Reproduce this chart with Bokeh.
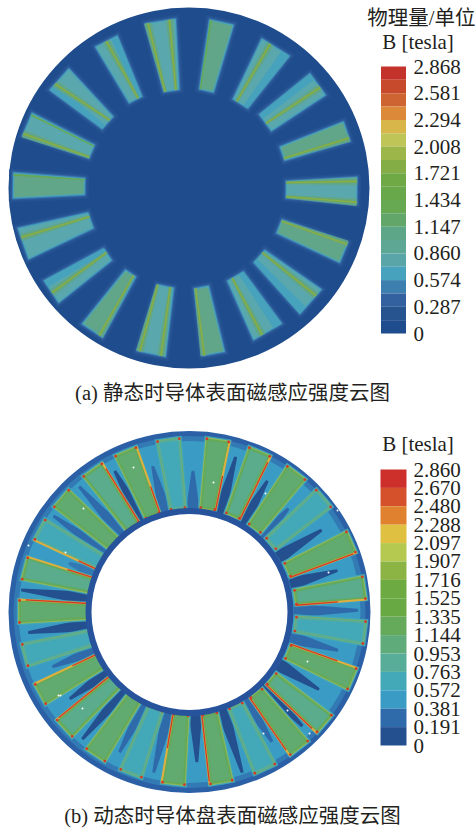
import math
from bokeh.plotting import figure
from bokeh.models import Range1d, ColumnDataSource
from bokeh.core.properties import value
from bokeh.embed import file_html
from bokeh.resources import INLINE

# ---------- legends ----------
TOP_TITLE = ["物理量/单位", "B [tesla]"]
TOP_TICKS = ["2.868", "2.581", "2.294", "2.008", "1.721", "1.434", "1.147", "0.860", "0.574", "0.287", "0"]
TOP_VALUES = [2.868, 2.581, 2.294, 2.008, 1.721, 1.434, 1.147, 0.860, 0.574, 0.287, 0.0]
TOP_BANDS = ["#c3332b", "#c74a2c", "#cf6433", "#dc8a3a", "#d8b64a", "#c0c557", "#9db64a", "#84ae45",
             "#6fa946", "#69a84a", "#67a852", "#62a66a", "#5ea688", "#5ea795", "#5aa5a8", "#47a2bd",
             "#3d80b0", "#33609e", "#27538f", "#1f4c8c"]
BOT_TITLE = "B [tesla]"
BOT_TICKS = ["2.860", "2.670", "2.480", "2.288", "2.097", "1.907", "1.716", "1.525", "1.335", "1.144",
             "0.953", "0.763", "0.572", "0.381", "0.191", "0"]
BOT_VALUES = [2.860, 2.670, 2.480, 2.288, 2.097, 1.907, 1.716, 1.525, 1.335, 1.144, 0.953, 0.763, 0.572, 0.381, 0.191, 0.0]
BOT_BANDS = ["#cd2f2b", "#d4512c", "#e0812f", "#e0c040", "#b5c84f", "#8cb444", "#6eaa42", "#69a944",
             "#64aa5a", "#5fac7a", "#57ad98", "#43a8b8", "#3a9cc4", "#2f6aab", "#25508f"]
CAPTIONS = ["(a) 静态时导体表面磁感应强度云图", "(b) 动态时导体盘表面磁感应强度云图"]

# ---------- (a) 18 slots: outer midpoint, inner midpoint, half widths, strips, green body ----------
A_OX = [13, 27, 59, 106, 160, 221, 275, 317, 346, 356, 343, 310, 267, 213, 151, 92, 51, 23]
A_OY = [185, 124, 79, 41, 21, 22, 47, 84, 131, 190, 252, 301, 331, 353, 353, 330, 291, 243]
A_IX = [84, 91, 107, 135, 171, 206, 240, 265, 282, 286, 279, 259, 235, 201, 165, 130, 107, 90]
A_IY = [186, 151, 122, 99, 90, 90, 103, 122, 153, 189, 226, 256, 276, 287, 286, 273, 254, 220]
A_WO = [12.5, 12, 14, 12, 15, 12, 16, 13, 10, 13, 10.5, 16, 16, 11, 14, 12, 13, 16]
A_WI = [8, 7, 8, 7, 7.5, 7, 8.5, 10, 7, 8, 7, 8, 9, 7, 8, 6, 7, 8]
A_BODY_GREEN = [1, 0, 0, 0, 0, 1, 0, 0, 1, 0, 1, 0, 0, 1, 0, 1, 0, 0]
A_FLANK = [0, 0, 1, -1, 0, 0, -1, 1, 0, 0, 0, -1, 1, 0, 0, 1, -1, 0]
# strips: (t at inner, t at outer, strength 0 faint / 1 bright)
A_STRIPS = [
    [(-0.85, -0.85, 0)], [(0.85, 0.85, 1), (-0.85, -0.85, 0)], [(-0.4, 0.44, 1)], [(-0.4, 0.0, 1)],
    [(0.85, 0.85, 1), (-0.6, -0.6, 1)], [(0.9, 0.9, 0)], [(0.5, 0.4, 1)], [(-0.1, -0.3, 1)],
    [(-0.7, -0.7, 1)], [(0.85, 0.7, 1), (-0.9, -0.9, 1)], [(0.8, 0.85, 1)], [(0.6, 0.5, 1)],
    [(-0.4, -0.4, 1)], [(-0.85, -0.85, 1)], [(-1.0, -0.85, 1), (0.6, 0.7, 1)], [(0.6, 0.7, 1)],
    [(-0.3, 0.1, 1)], [(-0.5, -0.4, 1)],
]

# ---------- (b) 25 slots ----------
B_ANGLES = [180, 165.6, 151.8, 139.2, 125.2, 112.7, 98, 81.6, 67.2, 53.2, 40.8, 23.7, 7.9, -7, -22.9,
            -40.4, -52, -65.3, -80.4, -96.3, -110.8, -124, -137.6, -151.5, -165.4]
# 0 green body, 1 hollow teal
B_HOLLOW = [0, 0, 1, 0, 0, 0, 1, 0, 0, 0, 1, 0, 0, 1, 0, 0, 0, 1, 0, 0, 1, 0, 0, 0, 1]
B_TEAL = [0, 1, 0, 0, 1, 0, 0, 0, 1, 0, 0, 0, 1, 0, 0, 1, 0, 0, 0, 0, 0, 0, 1, 0, 0]
# red edge: side -1 clockwise edge, +1 counter-clockwise edge, 0 none
B_RED = [-1, -1, 1, 0, -1, -1, 0, -1, -1, 0, 0, -1, -1, 0, 1, -1, -1, 0, -1, -1, 0, 0, -1, -1, 0]
B_REDLEN = [0.9, 0.4, 0.3, 0, 0.9, 0.4, 0, 0.5, 0.9, 0, 0, 0.95, 0.6, 0, 0.7, 0.9, 0.9, 0, 0.95, 0.5, 0, 0, 0.95, 0.4, 0]
# darker gaps after each slot (outer radius, level)
B_GAP_R = [172, 132, 168, 168, 160, 150, 140, 160, 150, 140, 152, 150, 165, 150, 148, 158, 152, 168, 150, 165, 158, 168, 150, 150, 165]
B_GAP_COL = ["#25508f", "#3379b4", "#2f6aab", "#2f6aab", "#25508f", "#2f6aab", "#2f6aab", "#25508f", "#25508f",
             "#2f6aab", "#25508f", "#25508f", "#2f6aab", "#2f6aab", "#25508f", "#25508f", "#2f6aab", "#25508f",
             "#25508f", "#2f6aab", "#2f6aab", "#25508f", "#25508f", "#2f6aab", "#25508f"]
SPECK_X = [65, 83, 133, 213, 265, 328, 58, 82, 287, 263, 307, 309, 28, 60, 337]
SPECK_Y = [552, 508, 467, 482, 493, 572, 695, 708, 710, 733, 661, 733, 545, 695, 510]

SERIF = value("Liberation Serif, Noto Sans CJK SC")
W, H = 476, 831
p = figure(width=W, height=H, x_range=Range1d(0, W), y_range=Range1d(H, 0),
           toolbar_location=None, output_backend="svg", min_border=0)
p.axis.visible = False
p.grid.visible = False
p.outline_line_color = None
p.background_fill_color = "white"
p.border_fill_color = "white"


def add_patches(polys, colors, lw=0.5):
    src = ColumnDataSource(dict(xs=[q[0] for q in polys], ys=[q[1] for q in polys], c=colors))
    p.patches("xs", "ys", fill_color="c", line_color="c", line_width=lw, line_join="round", source=src)


def frame(ox, oy, ix, iy):
    L = math.hypot(ox - ix, oy - iy)
    ux, uy = (ox - ix) / L, (oy - iy) / L
    return ux, uy, uy, -ux


def quad_slot(ox, oy, ix, iy, wo, wi, grow):
    ux, uy, tx, ty = frame(ox, oy, ix, iy)
    a = (ix - ux * grow, iy - uy * grow)
    b = (ox + ux * grow, oy + uy * grow)
    w1, w2 = wi + grow, wo + grow
    return ([a[0] + tx * w1, b[0] + tx * w2, b[0] - tx * w2, a[0] - tx * w1],
            [a[1] + ty * w1, b[1] + ty * w2, b[1] - ty * w2, a[1] - ty * w1])


def strip_poly(ox, oy, ix, iy, wo, wi, ti, to, h1, h2):
    ux, uy, tx, ty = frame(ox, oy, ix, iy)
    ai, ao = ti * wi, to * wo
    return ([ix + tx * (ai + h1), ox + tx * (ao + h2), ox + tx * (ao - h2), ix + tx * (ai - h1)],
            [iy + ty * (ai + h1), oy + ty * (ao + h2), oy + ty * (ao - h2), iy + ty * (ai - h1)])


# ----- disc (a) -----
p.circle([188.5], [187.5], radius=180.5, fill_color="#1f4c8c", line_color=None)
for grow, col, lw in ((2.5, "#245190", 4), (1.2, "#2c5a9b", 3), (0.2, "#3a78ad", 2.4), (-0.5, "#47a2bd", 2)):
    add_patches([quad_slot(A_OX[i], A_OY[i], A_IX[i], A_IY[i], A_WO[i], A_WI[i], grow) for i in range(18)],
                [col] * 18, lw)
add_patches([quad_slot(A_OX[i], A_OY[i], A_IX[i], A_IY[i], A_WO[i], A_WI[i], -1.4) for i in range(18)],
            ["#62a68a" if A_BODY_GREEN[i] else "#5aa8ad" for i in range(18)], 1.5)
flank = [strip_poly(A_OX[i], A_OY[i], A_IX[i], A_IY[i], A_WO[i], A_WI[i], A_FLANK[i] * 0.7, A_FLANK[i] * 0.7,
                    0.25 * A_WI[i], 0.25 * A_WO[i]) for i in range(18) if A_FLANK[i]]
add_patches(flank, ["#47a2bd"] * len(flank))
zone, zone_c, core, core_c, hot = [], [], [], [], []
for i in range(18):
    for ti, to, s in A_STRIPS[i]:
        args = (A_OX[i], A_OY[i], A_IX[i], A_IY[i], A_WO[i], A_WI[i], ti, to)
        if s:
            zone.append(strip_poly(*args, 1.4, 3.6))
            zone_c.append("#62a68a")
            core.append(strip_poly(*args, 0.6, 0.9))
            core_c.append("#76a94c")
            hot.append(strip_poly(*args, 0.15, 0.25))
        else:
            core.append(strip_poly(*args, 0.4, 0.6))
            core_c.append("#67a852")
add_patches(zone, zone_c)
add_patches(core, core_c)
add_patches(hot, ["#8fb048"] * len(hot))

# ----- disc (b) -----
CX, CY = 192, 611
p.circle([189], [611.5], radius=181, fill_color="#2b5fa6", line_color=None)
p.circle([189], [611.5], radius=176, fill_color="#3379b4", line_color=None)
p.circle([189], [611.5], radius=171, fill_color="#3a9cc4", line_color=None)


def slot_b(a, r1, r2, w1, w2):
    c, s = math.cos(math.radians(a)), math.sin(math.radians(a))
    return (CX + r2 * c, CY - r2 * s, CX + r1 * c, CY - r1 * s, w2, w1)


n = len(B_ANGLES)
gaps = []
for i in range(n):
    a0, a1 = B_ANGLES[i], B_ANGLES[(i + 1) % n]
    d = (a1 - a0 + 180) % 360 - 180
    mid = a0 + d / 2
    ox, oy, ix, iy, wo, wi = slot_b(mid, 102, B_GAP_R[i], 6, 0.8)
    gaps.append(quad_slot(ox, oy, ix, iy, wo, wi, 0))
add_patches(gaps, B_GAP_COL, 1.5)
halos = [quad_slot(*slot_b(a, 103, 174, 8, 12), 1.4) for a in B_ANGLES]
add_patches(halos, ["#43a8b8"] * n)

slots = [slot_b(a, 103, 174, 8, 12) for a in B_ANGLES]
add_patches([quad_slot(*s, 0) for s in slots], ["#a8bf4c" if not B_HOLLOW[i] else "#7fb060" for i, s in enumerate(slots)])
add_patches([quad_slot(*s, -0.7) for s in slots], ["#57ad98" if B_HOLLOW[i] else "#64aa5a" for i, s in enumerate(slots)])
inner = [quad_slot(*s, -3.0) for s in slots]
add_patches(inner, ["#43a8b8" if B_HOLLOW[i] else ("#5aac8c" if B_TEAL[i] else "#62ab70") for i in range(n)])

# red edges & corner marks
rx, ry, cx, cy = [], [], [], []
ox_, oy_ = [], []
for i, s in enumerate(slots):
    ox, oy, ix, iy, wo, wi = s
    ux, uy, tx, ty = frame(ox, oy, ix, iy)
    for sg in (-1, 1):
        cx += [ox + tx * sg * (wo - 1) - ux, ix + tx * sg * (wi - 1) + ux]
        cy += [oy + ty * sg * (wo - 1) - uy, iy + ty * sg * (wi - 1) + uy]
    sd = B_RED[i]
    if sd:
        f = B_REDLEN[i]
        x1, y1 = ix + tx * sd * wi, iy + ty * sd * wi
        x2, y2 = ox + tx * sd * wo, oy + ty * sd * wo
        ox_.append([x1, x2]); oy_.append([y1, y2])
        rx.append([x1, x1 + (x2 - x1) * f]); ry.append([y1, y1 + (y2 - y1) * f])
p.multi_line(ox_, oy_, line_color="#dfae3f", line_width=2.0)
p.multi_line(rx, ry, line_color="#d23a2a", line_width=1.3)
p.scatter(cx, cy, size=2.8, marker="circle", fill_color="#d23a2a", line_color=None)
p.scatter(SPECK_X, SPECK_Y, size=2.0, marker="circle", fill_color="white", line_color=None)
p.circle([189], [611.5], radius=104, fill_color="#27539c", line_color=None)
p.circle([189], [611.5], radius=98, fill_color="white", line_color=None)


# ----- legends -----
def legend(bands, x0, x1, y_top, y_bot, vals, labels):
    vmax = vals[0]
    k = (y_bot - y_top) / vmax
    step = vmax / len(bands)
    top = [y_top + j * step * k for j in range(len(bands))]
    bot = [y_top + (j + 1) * step * k for j in range(len(bands))]
    p.quad(left=x0, right=x1, top=top, bottom=bot, fill_color=bands, line_color=None)
    return [y_top + (vmax - v) * k for v in vals]


ya = legend(TOP_BANDS, 380.5, 405.5, 66, 333, TOP_VALUES, TOP_TICKS)
yb = legend(BOT_BANDS, 380, 406, 469, 745, BOT_VALUES, BOT_TICKS)
p.text([413] * len(ya), ya, text=TOP_TICKS, text_font=SERIF, text_font_size="21px",
       text_baseline="middle", text_color="#231f20")
p.text([413] * len(yb), yb, text=BOT_TICKS, text_font=SERIF, text_font_size="21px",
       text_baseline="middle", text_color="#231f20")
p.text([475], [17], text=[TOP_TITLE[0]], text_font=SERIF, text_font_size="20.5px", text_align="right",
       text_baseline="middle", text_color="#231f20")
p.text([417.5], [41.5], text=[TOP_TITLE[1]], text_font=SERIF, text_font_size="21px", text_align="center",
       text_baseline="middle", text_color="#231f20")
p.text([417.5], [443], text=[BOT_TITLE], text_font=SERIF, text_font_size="21px", text_align="center",
       text_baseline="middle", text_color="#231f20")
p.text([232, 232], [392, 815], text=CAPTIONS, text_font=SERIF, text_font_size="20.5px", text_align="center",
       text_baseline="middle", text_color="#231f20")

open("out.html", "w").write(file_html(p, INLINE))
